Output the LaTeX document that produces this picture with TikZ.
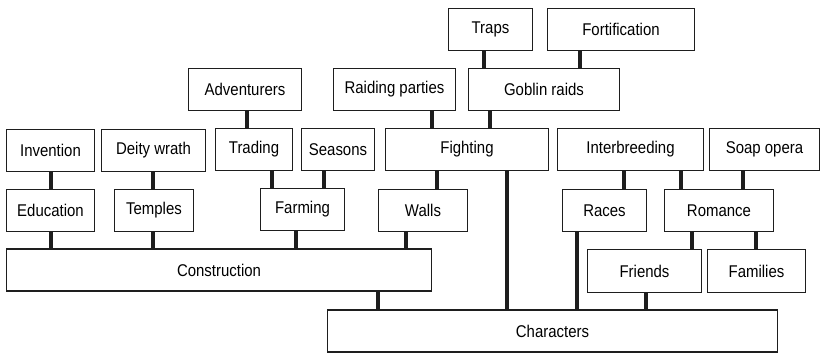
\documentclass[tikz,border=0pt]{standalone}
\usepackage{fontspec}
\setmainfont{Liberation Sans}[FakeStretch=0.88]
\usepackage{tikz}
\usetikzlibrary{positioning, calc}
\definecolor{ink}{RGB}{30,30,30}

\begin{document}
\begin{tikzpicture}[
  x=1pt, y=-1pt,
  every node/.style={font=\fontsize{17}{20}\selectfont, anchor=center},
  topic/.style={draw=ink, line width=1.8pt, rectangle, inner sep=0pt, minimum height=42pt},
  link/.style={draw=ink, line width=3.4pt},
]
\useasboundingbox (0,0) rectangle (825,353);

% top row
\node[topic, minimum width=84pt] (traps) at (490.5,29.5) {Traps};
\node[topic, minimum width=147pt] (fortification) at (621,29.5) {Fortification};

\node[topic, minimum width=113pt] (adventurers) at (245,89.5) {Adventurers};
\node[topic, minimum width=122pt] (raiding) at (394.5,89.5) {Raiding parties};
\node[topic, minimum width=151pt] (goblin) at (544,89.5) {Goblin raids};

\node[topic, minimum width=88pt] (invention) at (50.5,150.5) {Invention};
\node[topic, minimum width=104pt] (deity) at (153.5,150.5) {Deity wrath};
\node[topic, minimum width=77pt] (trading) at (254,149.5) {Trading};
\node[topic, minimum width=73pt] (seasons) at (338,149.5) {Seasons};
\node[topic, minimum width=163pt] (fighting) at (467,149.5) {Fighting};
\node[topic, minimum width=146pt] (interbreeding) at (630.5,149.5) {Interbreeding};
\node[topic, minimum width=110pt] (soap) at (764.5,149.5) {Soap opera};

\node[topic, minimum width=88pt] (education) at (50.5,210.5) {Education};
\node[topic, minimum width=79pt] (temples) at (154,210.5) {Temples};
\node[topic, minimum width=84pt] (farming) at (302.5,209.5) {Farming};
\node[topic, minimum width=89pt] (walls) at (423,210.5) {Walls};
\node[topic, minimum width=84pt] (races) at (604.5,210.5) {Races};
\node[topic, minimum width=109pt] (romance) at (719,210.5) {Romance};

\node[topic, minimum width=425pt] (construction) at (219,270) {Construction};
\node[topic, minimum width=114pt, minimum height=43pt] (friends) at (644.5,271) {Friends};
\node[topic, minimum width=98pt, minimum height=43pt] (families) at (756.5,271) {Families};

\node[topic, minimum width=450pt] (characters) at (552.5,331) {Characters};

% connectors
\draw[link] (traps.south -| 484,0) -- (goblin.north -| 484,0);
\draw[link] (fortification.south -| 580,0) -- (goblin.north -| 580,0);
\draw[link] (adventurers.south -| 247,0) -- (trading.north -| 247,0);
\draw[link] (raiding.south -| 432,0) -- (fighting.north -| 432,0);
\draw[link] (goblin.south -| 490,0) -- (fighting.north -| 490,0);

\draw[link] (invention.south -| 51,0) -- (education.north -| 51,0);
\draw[link] (deity.south -| 153,0) -- (temples.north -| 153,0);
\draw[link] (trading.south -| 272,0) -- (farming.north -| 272,0);
\draw[link] (seasons.south -| 324,0) -- (farming.north -| 324,0);
\draw[link] (fighting.south -| 437,0) -- (walls.north -| 437,0);
\draw[link] (fighting.south -| 507,0) -- (characters.north -| 507,0);
\draw[link] (interbreeding.south -| 624,0) -- (races.north -| 624,0);
\draw[link] (interbreeding.south -| 681,0) -- (romance.north -| 681,0);
\draw[link] (soap.south -| 743,0) -- (romance.north -| 743,0);

\draw[link] (education.south -| 51,0) -- (construction.north -| 51,0);
\draw[link] (temples.south -| 153,0) -- (construction.north -| 153,0);
\draw[link] (farming.south -| 296,0) -- (construction.north -| 296,0);
\draw[link] (walls.south -| 406,0) -- (construction.north -| 406,0);
\draw[link] (romance.south -| 692,0) -- (friends.north -| 692,0);
\draw[link] (romance.south -| 756,0) -- (families.north -| 756,0);

\draw[link] (construction.south -| 378,0) -- (characters.north -| 378,0);
\draw[link] (races.south -| 577,0) -- (characters.north -| 577,0);
\draw[link] (friends.south -| 646,0) -- (characters.north -| 646,0);

\end{tikzpicture}
\end{document}
